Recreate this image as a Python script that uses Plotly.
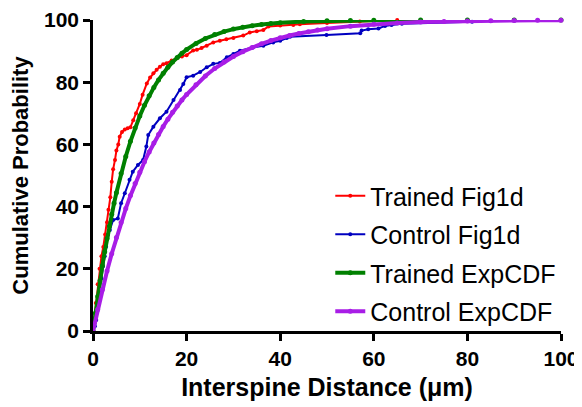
import plotly.graph_objects as go

# Trained Fig1d (empirical)
trained_x = [0, 0.3, 0.6, 1.0, 1.4, 1.8, 2.2, 2.6, 3.0, 3.3,
             3.7, 4.0, 4.3, 4.7, 5.0, 5.4, 5.7, 6.2, 6.8, 7.4,
             8.0, 8.6, 9.2, 10.0, 10.6, 11.5, 12.2, 12.9, 13.6, 14.3,
             15.0, 15.7, 16.8, 17.9, 19.0, 20.0, 21.4, 22.2, 23.2, 24.3,
             25.7, 27.1, 28.5, 30.0, 32.1, 33.5, 35.0, 36.4, 37.5, 40.0,
             42.8, 44.2, 50.0, 57.0, 65.0]
trained_y = [0, 4, 9, 15, 20, 24, 27, 31, 35, 39,
             43, 48, 52, 55, 58, 60, 62.5, 64, 64.8, 65.2,
             65.5, 67.8, 70, 73, 76, 79.6, 81.5, 82.9, 84, 85,
             85.8, 86.1, 87, 87.7, 88.3, 88.7, 90.2, 90.4, 91, 91.7,
             92.8, 93.3, 93.8, 94.2, 95, 96, 96.4, 96.8, 97.9, 98.2,
             98.4, 98.6, 99.0, 99.5, 100]

# Control Fig1d (empirical)
control_x = [0, 0.4, 0.7, 1.0, 1.4, 1.8, 2.1, 2.5, 2.8, 3.2,
             3.6, 4.3, 5.3, 6.0, 6.8, 7.8, 8.5, 9.6, 10.7, 11.4,
             11.8, 12.9, 14.3, 15.7, 17.2, 18.6, 19.3, 20.0, 21.4, 22.9,
             24.3, 25.7, 27.1, 28.6, 30.0, 31.4, 34.2, 36.4, 38.5, 40.0,
             41.4, 42.1, 49.9, 57.1, 57.4, 58.8, 61.0, 62.4, 63.8, 66.0,
             81.0]
control_y = [0, 1.5, 3.5, 8, 13.2, 17, 20.7, 24, 27.1, 30.9,
             32.5, 35.7, 36.2, 41.1, 44.3, 48.6, 51.2, 53.4, 55, 59.3,
             63, 65.7, 68.4, 70.5, 74.3, 77.5, 79.4, 81.6, 82.1, 83.3,
             84.8, 85.9, 86.2, 88, 89.1, 90.1, 91.2, 91.7, 92.8, 93.3,
             94.2, 94.6, 95.2, 95.7, 96.6, 97, 97.3, 98.1, 98.4, 98.8,
             99.4]

# Trained ExpCDF
texp_x = [0, 0.5, 1, 1.5, 2, 2.5, 3, 3.5, 4, 4.5, 5, 6, 7, 8, 9, 10, 11, 12, 13, 14,
          15, 16, 17, 18, 19, 20, 22, 24, 26, 28, 30, 32, 34, 36, 38, 40,
          45, 50, 55, 60, 70, 80, 90, 100]
texp_y = [0, 5.71, 11.10, 16.18, 20.97, 25.48, 29.74, 33.75, 37.54, 41.10, 44.47,
          50.63, 56.11, 60.98, 65.31, 69.16, 72.59, 75.63, 78.33, 80.74,
          82.88, 84.78, 86.47, 87.97, 89.30, 90.49, 92.48, 94.06, 95.31, 96.29,
          97.07, 97.68, 98.17, 98.55, 98.86, 99.10,
          99.50, 99.72, 99.85, 99.91, 99.97, 99.99, 100, 100]

# Control ExpCDF
cexp_x = [0, 1, 2, 3, 4, 5, 6, 7, 8, 9, 10, 11, 12, 13, 14, 15, 16, 17, 18, 19,
          20, 22, 24, 26, 28, 30, 32, 34, 36, 38, 40, 42, 44, 46, 48, 50,
          55, 60, 65, 70, 75, 80, 85, 90, 95, 100]
cexp_y = [0, 6.89, 13.31, 19.29, 24.85, 30.03, 34.86, 39.35, 43.53, 47.42,
          51.05, 54.42, 57.56, 60.49, 63.21, 65.75, 68.11, 70.31, 72.36, 74.26,
          76.04, 79.22, 81.99, 84.39, 86.47, 88.27, 89.83, 91.18, 92.36, 93.37,
          94.26, 95.02, 95.68, 96.26, 96.76, 97.19,
          98.03, 98.62, 99.04, 99.33, 99.53, 99.67, 99.77, 99.84, 99.89, 99.92]

x_ticks = [0, 20, 40, 60, 80, 100]
y_ticks = [0, 20, 40, 60, 80, 100]

FONT = "Arial, 'Liberation Sans', sans-serif"

fig = go.Figure()
series = [
    ("Trained Fig1d", trained_x, trained_y, "#FF0000", 2, 4),
    ("Control Fig1d", control_x, control_y, "#0000C0", 2, 4),
    ("Trained ExpCDF", texp_x, texp_y, "#008000", 4, 5),
    ("Control ExpCDF", cexp_x, cexp_y, "#A81DE6", 4, 5),
]
for i, (name, xs, ys, col, lw, ms) in enumerate(series):
    fig.add_trace(go.Scatter(
        x=xs, y=ys, name=name, mode="lines+markers",
        line=dict(color=col, width=lw),
        marker=dict(color=col, size=ms, symbol="circle"),
        cliponaxis=False, legendgroup=str(i),
    ))

axis_common = dict(
    showline=True, linecolor="black", linewidth=2.5,
    ticks="outside", ticklen=7, tickwidth=2.5, tickcolor="black",
    showgrid=False, zeroline=False, automargin=False,
    tickfont=dict(family=FONT, size=21, color="black", weight="bold"),
)
fig.update_xaxes(range=[0, 100], tickvals=x_ticks, **axis_common,
                 title=dict(text="Interspine Distance (μm)",
                            font=dict(family=FONT, size=25, color="black", weight="bold"),
                            standoff=10))
fig.update_yaxes(range=[0, 100], tickvals=y_ticks, **axis_common,
                 title=dict(text="Cumulative Probability",
                            font=dict(family=FONT, size=22, color="black", weight="bold"),
                            standoff=14))

# page body has an 8px default margin, so the figure is sized to fit the window
fig.update_layout(
    width=574, height=399,
    margin=dict(l=85, r=21, t=12, b=76),
    plot_bgcolor="white", paper_bgcolor="white",
    showlegend=True,
    legend=dict(x=0.507, y=0.508, xanchor="left", yanchor="top",
                font=dict(family=FONT, size=25, color="black"),
                bgcolor="rgba(0,0,0,0)", tracegroupgap=3, itemwidth=30),
)

fig.write_html("out.html")
